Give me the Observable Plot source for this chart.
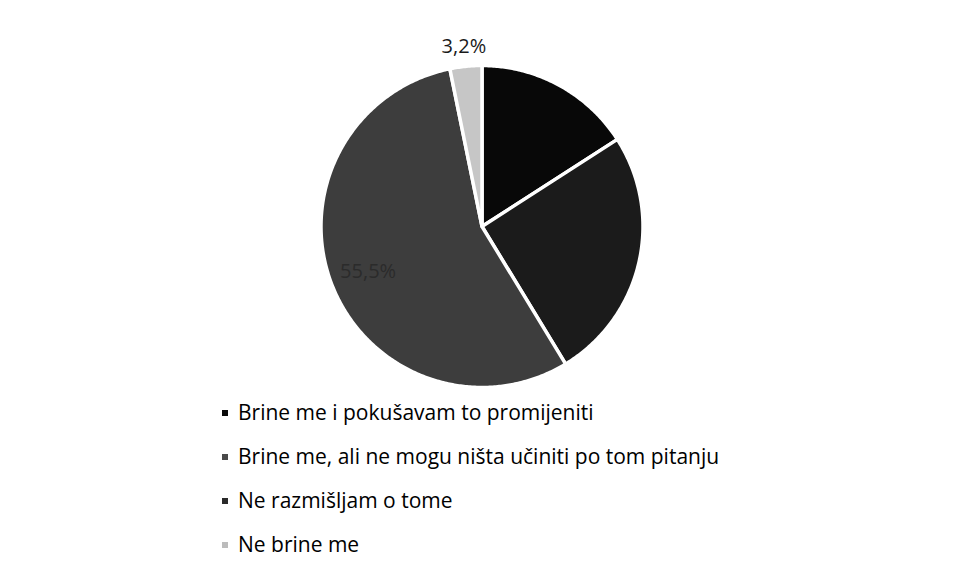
<!DOCTYPE html>
<html>
<head>
<meta charset="utf-8">
<script src="https://cdn.jsdelivr.net/npm/d3@7"></script>
<script src="https://cdn.jsdelivr.net/npm/@observablehq/plot@0.6"></script>
<style>
  html, body { margin: 0; padding: 0; background: #fff; }
  #chart svg { display: block; }
  .legend { font-family: "Open Sans", sans-serif; font-size: 21px; color: #000; padding-left: 222px; }
  .legend .row { height: 44px; line-height: 44px; white-space: nowrap; }
  .legend .sw { display: inline-block; width: 6px; height: 6px; margin-right: 10px; vertical-align: 4px; }
</style>
</head>
<body>
<div id="chart"></div>
<script>
const categories = [
  "Brine me i pokušavam to promijeniti",
  "Brine me, ali ne mogu ništa učiniti po tom pitanju",
  "Ne razmišljam o tome",
  "Ne brine me"
];
const values = [15.9, 25.4, 55.5, 3.2];
const colors = ["#080808", "#1b1b1b", "#3d3d3d", "#c6c6c6"];
const swatchColors = ["#0a0a0a", "#4a4a4a", "#2a2a2a", "#bcbcbc"];
const shownLabels = [false, false, true, true];
const labelColors = ["#000", "#000", "#2b2b2b", "#1a1a1a"];

const fmt = v => v.toFixed(1).replace(".", ",") + "%";

const arcs = d3.pie().sort(null).value(d => d)(values);
const pts = [];
arcs.forEach((a, i) => {
  const cat = categories[i];
  pts.push({cat, x: 0, y: 0});
  const n = Math.max(2, Math.ceil((a.endAngle - a.startAngle) / 0.01));
  for (let k = 0; k <= n; k++) {
    const t = a.startAngle + (a.endAngle - a.startAngle) * k / n;
    pts.push({cat, x: Math.sin(t), y: Math.cos(t)});
  }
  pts.push({cat, x: 0, y: 0});
});

const labels = arcs.map((a, i) => {
  const mid = (a.startAngle + a.endAngle) / 2;
  const r = i === 3 ? 1.12 : 0.76;
  return {text: fmt(values[i]), x: r * Math.sin(mid), y: r * Math.cos(mid), color: labelColors[i], show: shownLabels[i]};
}).filter(d => d.show);

const cx = 481.5, cy = 226, R = 161;
const plot = Plot.plot({
  width: 965,
  height: 390,
  margin: 0,
  x: {domain: [-1, 1], range: [cx - R, cx + R], axis: null},
  y: {domain: [-1, 1], range: [cy + R, cy - R], axis: null},
  color: {domain: categories, range: colors},
  style: {background: "#fff", fontFamily: "'Open Sans', sans-serif"},
  marks: [
    Plot.line(pts, {x: "x", y: "y", z: "cat", fill: "cat", stroke: "#fff", strokeWidth: 3.5, strokeLinejoin: "round", curve: "linear"}),
    Plot.text(labels, {x: "x", y: "y", text: "text", fill: d => d.color, fontSize: 20})
  ]
});
document.getElementById("chart").appendChild(plot);

const legend = d3.select("body").append("div").attr("class", "legend");
const rows = legend.selectAll("div").data(categories).join("div").attr("class", "row");
rows.append("span").attr("class", "sw").style("background", (d, i) => swatchColors[i]);
rows.append("span").text(d => d);
</script>
</body>
</html>
